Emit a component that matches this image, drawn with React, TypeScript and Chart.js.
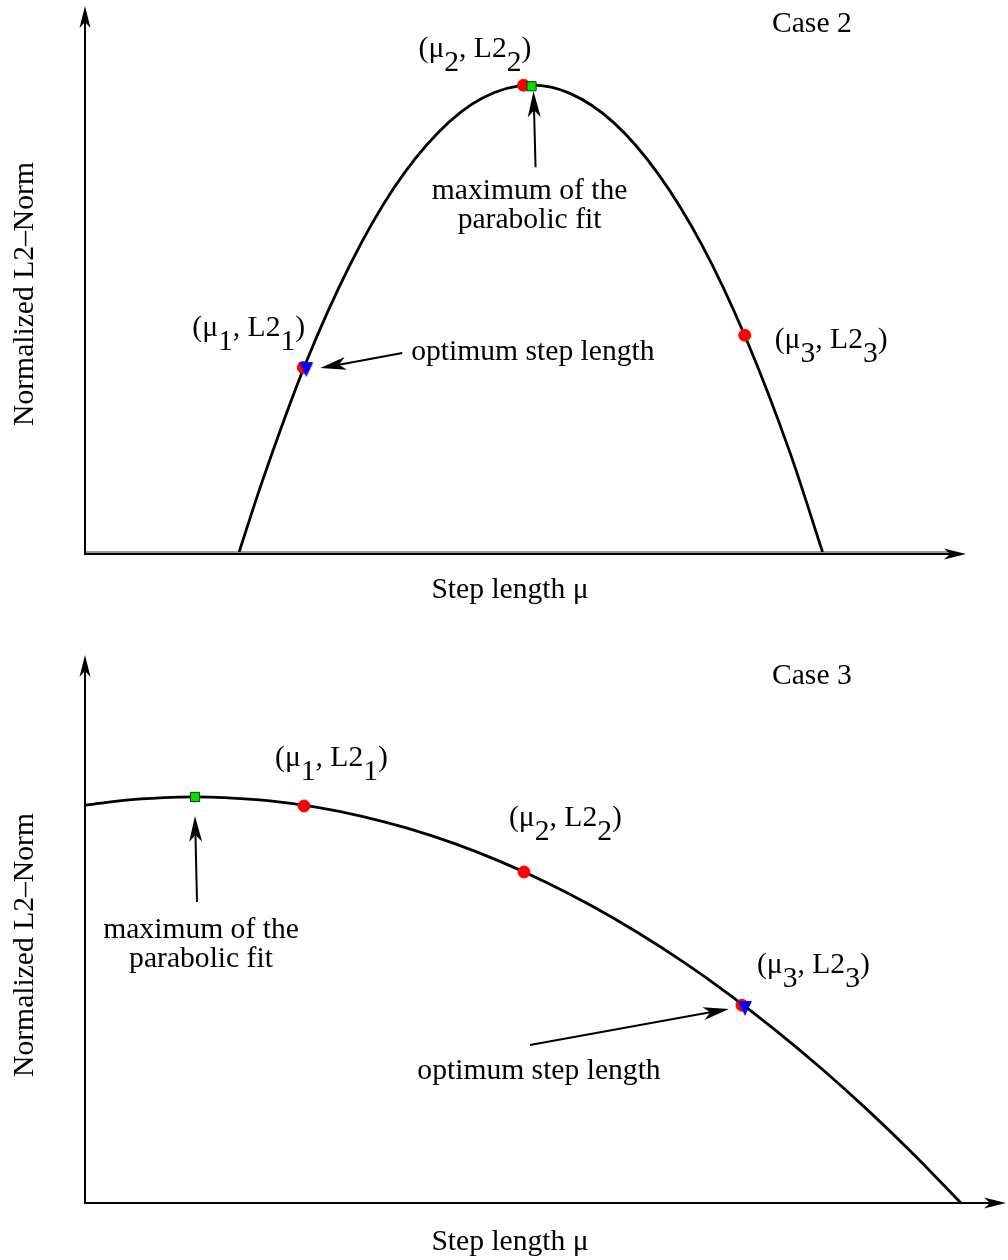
import React, { useEffect, useRef } from "react";
import { Chart, registerables } from "chart.js";

Chart.register(...registerables);

const SERIF = '"Liberation Serif", "Times New Roman", serif';
const FONT_PX = 29.6;

// ---------- Case 2: maximum of the fit lies inside the bracket ----------
const case2CurveX = [1.74, 2.0, 2.5, 3.0, 3.5, 4.0, 4.5, 5.06, 5.5, 6.0, 6.5, 7.0, 7.5, 8.0, 8.37];
const case2CurveY = [0, 0.128, 0.347, 0.526, 0.667, 0.768, 0.831, 0.855, 0.84, 0.786, 0.693, 0.562, 0.391, 0.182, 0];
const case2TrialX = [2.469, 4.972, 7.486];
const case2TrialY = [0.338, 0.855, 0.397];
const case2FitMaxX = [5.063];
const case2FitMaxY = [0.853];
const case2OptimumX = [2.503];
const case2OptimumY = [0.335];

// ---------- Case 3: maximum of the fit lies left of the bracket ----------
const case3CurveX = [0, 0.5, 1.0, 1.185, 1.5, 2.0, 2.5, 3.0, 3.5, 4.0, 4.5, 5.0, 5.5, 6.0, 6.5, 7.0, 7.5, 8.0, 8.5, 9.0, 9.51];
const case3CurveY = [0.726, 0.736, 0.7405, 0.741, 0.7398, 0.7338, 0.7224, 0.7057, 0.6836, 0.6562, 0.6234, 0.5854, 0.5419, 0.4931, 0.439, 0.3795, 0.3147, 0.2445, 0.169, 0.0882, 0];
const case3TrialX = [2.37, 4.761, 7.13];
const case3TrialY = [0.7245, 0.604, 0.361];
const case3FitMaxX = [1.185];
const case3FitMaxY = [0.741];
const case3OptimumX = [7.163];
const case3OptimumY = [0.356];

// Point labels: main text and subscripts alternate
const trialLabels: string[][] = [
  ["(μ", "1", ", L2", "1", ")"],
  ["(μ", "2", ", L2", "2", ")"],
  ["(μ", "3", ", L2", "3", ")"],
];

const Y_TITLE = "Normalized L2–Norm";
const X_TITLE = "Step length μ";
const MAX_NOTE = ["maximum of the", "parabolic fit"];
const OPT_NOTE = ["optimum step length"];

type Note = {
  lines: string[];
  align: CanvasTextAlign;
  text: [number, number]; // offset of first baseline from the marker
  tip: [number, number];
  tail: [number, number];
};

type Panel = {
  title: string;
  titlePos: [number, number];
  yTitlePos: [number, number];
  xTitlePos: [number, number];
  pad: { left: number; right: number; top: number; bottom: number };
  axisDrop: number;
  greyBase: boolean;
  curveX: number[];
  curveY: number[];
  trialX: number[];
  trialY: number[];
  maxX: number[];
  maxY: number[];
  optX: number[];
  optY: number[];
  labelOffsets: [number, number][];
  maxNote: Note;
  optNote: Note;
};

const panels: Panel[] = [
  {
    title: "Case 2",
    titlePos: [772, 32],
    yTitlePos: [25, 294],
    xTitlePos: [510, 598],
    pad: { left: 86, right: 42, top: 6, bottom: 78 },
    axisDrop: 2,
    greyBase: true,
    curveX: case2CurveX,
    curveY: case2CurveY,
    trialX: case2TrialX,
    trialY: case2TrialY,
    maxX: case2FitMaxX,
    maxY: case2FitMaxY,
    optX: case2OptimumX,
    optY: case2OptimumY,
    labelOffsets: [
      [-111, -31],
      [-105, -28],
      [30, 13],
    ],
    maxNote: { lines: MAX_NOTE, align: "center", text: [-2, 113], tip: [2, 5], tail: [4, 81] },
    optNote: { lines: OPT_NOTE, align: "left", text: [105, -9], tip: [14, -1], tail: [96, -16] },
  },
  {
    title: "Case 3",
    titlePos: [772, 54],
    yTitlePos: [25, 315],
    xTitlePos: [510, 620],
    pad: { left: 86, right: 2, top: 25, bottom: 57 },
    axisDrop: 0,
    greyBase: false,
    curveX: case3CurveX,
    curveY: case3CurveY,
    trialX: case3TrialX,
    trialY: case3TrialY,
    maxX: case3FitMaxX,
    maxY: case3FitMaxY,
    optX: case3OptimumX,
    optY: case3OptimumY,
    labelOffsets: [
      [-29, -40],
      [-15, -46],
      [15, -32],
    ],
    maxNote: { lines: MAX_NOTE, align: "center", text: [6, 141], tip: [0, 19], tail: [2, 105] },
    optNote: { lines: OPT_NOTE, align: "center", text: [-206, 71], tip: [-16, 1], tail: [-215, 37] },
  },
];

const zip = (xs: number[], ys: number[]) => xs.map((x, i) => ({ x, y: ys[i] }));

function arrowHead(
  ctx: CanvasRenderingContext2D,
  tx: number,
  ty: number,
  fx: number,
  fy: number,
  len: number,
  half: number,
  notch: number
) {
  const a = Math.atan2(ty - fy, tx - fx);
  const c = Math.cos(a);
  const s = Math.sin(a);
  const bx = tx - len * c;
  const by = ty - len * s;
  ctx.beginPath();
  ctx.moveTo(tx, ty);
  ctx.lineTo(bx - half * s, by + half * c);
  ctx.lineTo(tx - (len - notch) * c, ty - (len - notch) * s);
  ctx.lineTo(bx + half * s, by - half * c);
  ctx.closePath();
  ctx.fill();
  return [tx - (len - notch) * c, ty - (len - notch) * s];
}

function arrow(ctx: CanvasRenderingContext2D, fx: number, fy: number, tx: number, ty: number) {
  ctx.fillStyle = "#000";
  ctx.strokeStyle = "#000";
  const [nx, ny] = arrowHead(ctx, tx, ty, fx, fy, 26, 6.5, 7);
  ctx.lineWidth = 2;
  ctx.beginPath();
  ctx.moveTo(fx, fy);
  ctx.lineTo(nx, ny);
  ctx.stroke();
}

function drawRich(ctx: CanvasRenderingContext2D, x: number, y: number, parts: string[]) {
  ctx.textAlign = "left";
  let cx = x;
  parts.forEach((p, i) => {
    ctx.fillText(p, cx, i % 2 === 1 ? y + 14 : y);
    cx += ctx.measureText(p).width;
  });
}

function decor(panel: Panel) {
  return {
    id: "decor",
    beforeDatasetsDraw(chart: Chart) {
      const ctx = chart.ctx;
      const { left, right, top, bottom } = chart.chartArea;
      const ax = left - 1;
      const ay = bottom + panel.axisDrop;
      ctx.save();
      if (panel.greyBase) {
        ctx.strokeStyle = "#9a9a9a";
        ctx.lineWidth = 2;
        ctx.beginPath();
        ctx.moveTo(ax, bottom);
        ctx.lineTo(right - 18, bottom);
        ctx.stroke();
      }
      ctx.strokeStyle = "#000";
      ctx.fillStyle = "#000";
      ctx.lineWidth = 2;
      ctx.beginPath();
      ctx.moveTo(ax, ay + 1);
      ctx.lineTo(ax, top + 10);
      ctx.moveTo(ax - 1, ay);
      ctx.lineTo(right - 10, ay);
      ctx.stroke();
      arrowHead(ctx, ax, top, ax, ay, 22, 5.5, 6);
      arrowHead(ctx, right, ay, ax, ay, 22, 5.5, 6);
      ctx.restore();
    },
    afterDatasetsDraw(chart: Chart) {
      const ctx = chart.ctx;
      const xs = chart.scales.x;
      const ys = chart.scales.y;
      ctx.save();
      ctx.fillStyle = "#000";
      ctx.font = `${FONT_PX}px ${SERIF}`;
      ctx.textBaseline = "alphabetic";

      // panel title
      ctx.textAlign = "left";
      ctx.fillText(panel.title, panel.titlePos[0], panel.titlePos[1]);

      // axis titles
      ctx.textAlign = "center";
      ctx.fillText(X_TITLE, panel.xTitlePos[0], panel.xTitlePos[1]);
      ctx.save();
      ctx.translate(panel.yTitlePos[0], panel.yTitlePos[1]);
      ctx.rotate(-Math.PI / 2);
      ctx.textBaseline = "middle";
      ctx.fillText(Y_TITLE, 0, 0);
      ctx.restore();

      // trial point labels
      panel.trialX.forEach((v, i) => {
        const px = xs.getPixelForValue(v);
        const py = ys.getPixelForValue(panel.trialY[i]);
        const [dx, dy] = panel.labelOffsets[i];
        drawRich(ctx, px + dx, py + dy, trialLabels[i]);
      });

      // callouts
      const callout = (note: Note, vx: number, vy: number) => {
        const px = xs.getPixelForValue(vx);
        const py = ys.getPixelForValue(vy);
        ctx.textAlign = note.align;
        note.lines.forEach((line, k) => {
          ctx.fillText(line, px + note.text[0], py + note.text[1] + k * 29);
        });
        arrow(ctx, px + note.tail[0], py + note.tail[1], px + note.tip[0], py + note.tip[1]);
      };
      callout(panel.maxNote, panel.maxX[0], panel.maxY[0]);
      callout(panel.optNote, panel.optX[0], panel.optY[0]);
      ctx.restore();
    },
  };
}

function downTriangle(): HTMLCanvasElement {
  const c = document.createElement("canvas");
  c.width = 14;
  c.height = 16;
  const g = c.getContext("2d")!;
  g.fillStyle = "#0000ff";
  g.beginPath();
  g.moveTo(0, 1);
  g.lineTo(14, 1);
  g.lineTo(7, 16);
  g.closePath();
  g.fill();
  return c;
}

function makeChart(canvas: HTMLCanvasElement, panel: Panel) {
  const tri = downTriangle();
  return new Chart(canvas, {
    type: "scatter",
    data: {
      datasets: [
        {
          data: zip(panel.optX, panel.optY),
          pointStyle: tri,
          pointRadius: 8,
          order: 0,
        } as any,
        {
          data: zip(panel.maxX, panel.maxY),
          pointStyle: "rect",
          pointRadius: 6.5,
          backgroundColor: "#00e000",
          borderColor: "#0a3a0a",
          borderWidth: 1,
          order: 1,
        },
        {
          data: zip(panel.trialX, panel.trialY),
          pointStyle: "circle",
          pointRadius: 6,
          backgroundColor: "#ff0000",
          borderColor: "#ff0000",
          borderWidth: 1,
          order: 2,
        },
        {
          data: zip(panel.curveX, panel.curveY),
          showLine: true,
          borderColor: "#000",
          borderWidth: 2.8,
          pointRadius: 0,
          cubicInterpolationMode: "monotone",
          order: 3,
        } as any,
      ],
    },
    options: {
      responsive: false,
      animation: false,
      events: [],
      layout: { padding: panel.pad, autoPadding: false },
      plugins: { legend: { display: false }, tooltip: { enabled: false } },
      scales: {
        x: { type: "linear", min: 0, max: 10, display: false },
        y: { type: "linear", min: 0, max: 1, display: false },
      },
    },
    plugins: [decor(panel)],
  });
}

function PanelChart({ panel, top }: { panel: Panel; top: number }) {
  const ref = useRef<HTMLCanvasElement>(null);
  useEffect(() => {
    if (!ref.current) return;
    const chart = makeChart(ref.current, panel);
    return () => chart.destroy();
  }, [panel]);
  return (
    <canvas
      ref={ref}
      width={1008}
      height={630}
      style={{ position: "absolute", left: 0, top, width: 1008, height: 630, display: "block" }}
    />
  );
}

export default function App() {
  return (
    <div style={{ position: "absolute", left: 0, top: 0, width: 1008, height: 1260, background: "#fff" }}>
      <PanelChart panel={panels[0]} top={0} />
      <PanelChart panel={panels[1]} top={630} />
    </div>
  );
}
